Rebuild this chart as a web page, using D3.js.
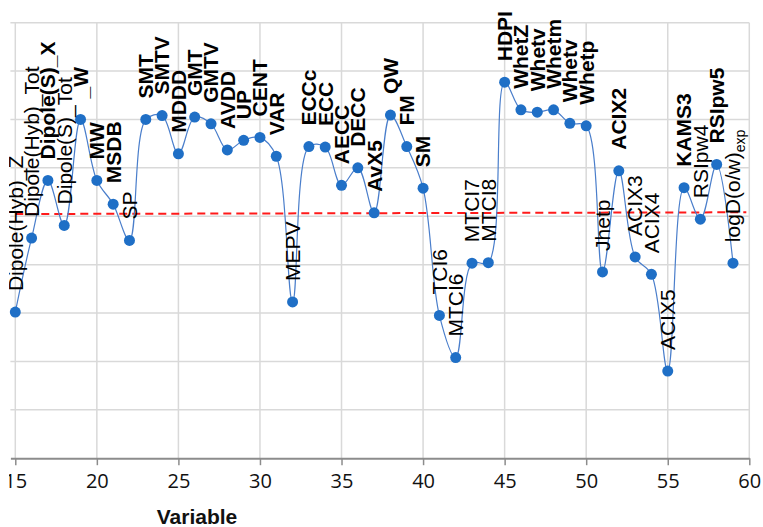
<!DOCTYPE html>
<html>
<head>
<meta charset="utf-8">
<script src="https://cdn.jsdelivr.net/npm/d3@7"></script>
<style>
  html, body { margin: 0; padding: 0; background: #fff; }
  svg { display: block; }
</style>
</head>
<body>
<svg id="chart" width="763" height="527"></svg>
<script>
// ---- data ----
const variableIndex = [15,16,17,18,19,20,21,22,23,24,25,26,27,28,29,30,31,32,33,34,35,36,37,38,39,40,41,42,43,44,45,46,47,48,49,50,51,52,53,54,55,56,57,58,59];
const variableNames = ["Dipole(Hyb)_Z","Dipole(Hyb)_Tot","Dipole(S)_X","Dipole(S)_Tot","_W","MW","MSDB","SP","SMT","SMTV","MDDD","GMT","GMTV","AVDD","UP","CENT","VAR","MEPV","ECCc","ECC","AECC","DECC","AvX5","QW","FM","SM","TCI6","MTCI6","MTCI7","MTCI8","HDPI","WhetZ","Whetv","Whetm","Whetv","Whetp","Jhetp","ACIX2","ACIX3","ACIX4","ACIX5","KAMS3","RSIpw4","RSIpw5","logD(o/w)|exp"];
const scores = [3.02,4.55,5.74,4.81,7.00,5.74,5.25,4.50,7.00,7.08,6.29,7.05,6.91,6.37,6.57,6.63,6.24,3.23,6.44,6.43,5.64,6.00,5.07,7.09,6.44,5.58,2.95,2.08,4.03,4.04,7.77,7.20,7.15,7.20,6.92,6.87,3.85,5.94,4.16,3.80,1.80,5.59,4.94,6.07,4.03];
const refLineX = [15, 60];
const refLineY = [5.046, 5.082];
const xTicks = [15,20,25,30,35,40,45,50,55,60];
const yGrid = [0,1,2,3,4,5,6,7,8,9];
const xTitle = "Variable";

// ---- layout ----
const svg = d3.select("#chart");
const x = d3.scaleLinear().domain([14.7, 60]).range([10.4, 749.3]);
const y = d3.scaleLinear().domain([0, 9]).range([458.2, 22.7]);

svg.append("defs").append("clipPath").attr("id", "crop")
  .append("rect").attr("x", 9).attr("y", 0).attr("width", 760).attr("height", 527);

const g = svg.append("g").attr("clip-path", "url(#crop)");

// gridlines
g.append("g").selectAll("line").data(yGrid.filter(d => d > 0)).join("line")
  .attr("x1", x.range()[0]).attr("x2", x.range()[1])
  .attr("y1", d => y(d)).attr("y2", d => y(d))
  .attr("stroke", "#d9d9d9").attr("stroke-width", 1.5);
g.append("g").selectAll("line").data(xTicks).join("line")
  .attr("x1", d => x(d)).attr("x2", d => x(d))
  .attr("y1", y(9)).attr("y2", y(0))
  .attr("stroke", "#d9d9d9").attr("stroke-width", 1.5);

// x axis
const xAxis = d3.axisBottom(x).tickValues(xTicks).tickSize(7).tickPadding(9).tickSizeOuter(0);
const ax = g.append("g").attr("transform", `translate(0,${y(0)})`).call(xAxis);
ax.select(".domain").attr("stroke", "#8c8c8c").attr("stroke-width", 2);
ax.selectAll(".tick line").attr("stroke", "#8c8c8c").attr("stroke-width", 1.5);
ax.selectAll(".tick text").attr("fill", "#111").attr("font-family", "'Open Sans', sans-serif").attr("font-size", 20);

g.append("text").attr("x", 197).attr("y", 524)
  .attr("text-anchor", "middle")
  .attr("font-family", "'Liberation Sans', Arial, sans-serif")
  .attr("font-weight", "bold").attr("font-size", 21).attr("fill", "#111")
  .text(xTitle);

// reference line
const ref = d3.scaleLinear().domain(refLineX).range(refLineY);
g.append("line")
  .attr("x1", x(refLineX[0])).attr("x2", x(refLineX[1]) - 3)
  .attr("y1", y(refLineY[0])).attr("y2", y(refLineY[1]))
  .attr("stroke", "#ff1a1a").attr("stroke-width", 2)
  .attr("stroke-dasharray", "8,5");

// series
const pts = variableIndex.map((v, i) => ({ x: v, y: scores[i], name: variableNames[i] }));
const line = d3.line().x(d => x(d.x)).y(d => y(d.y)).curve(d3.curveCatmullRom.alpha(0.5));
g.append("path").datum(pts).attr("d", line)
  .attr("fill", "none").attr("stroke", "#4a7ecb").attr("stroke-width", 1.2);

g.append("g").selectAll("circle").data(pts).join("circle")
  .attr("cx", d => x(d.x)).attr("cy", d => y(d.y)).attr("r", 5.5)
  .attr("fill", "#1f6fc6");

// labels
const labels = g.append("g").selectAll("text").data(pts).join("text")
  .attr("transform", d => `translate(${x(d.x)},${y(d.y) - 21}) rotate(-90)`)
  .attr("dy", "0.35em")
  .attr("text-anchor", "start")
  .attr("font-family", "'Liberation Sans', Arial, sans-serif")
  .attr("font-size", 21)
  .attr("fill", "#000")
  .attr("font-weight", d => d.y >= ref(d.x) - 0.02 ? "bold" : "normal");

labels.each(function(d) {
  const parts = d.name.split("|");
  const t = d3.select(this);
  t.append("tspan").text(parts[0]);
  if (parts[1]) {
    t.append("tspan").attr("font-size", 14).attr("dy", "0.3em").text(parts[1]);
  }
});
</script>
</body>
</html>
